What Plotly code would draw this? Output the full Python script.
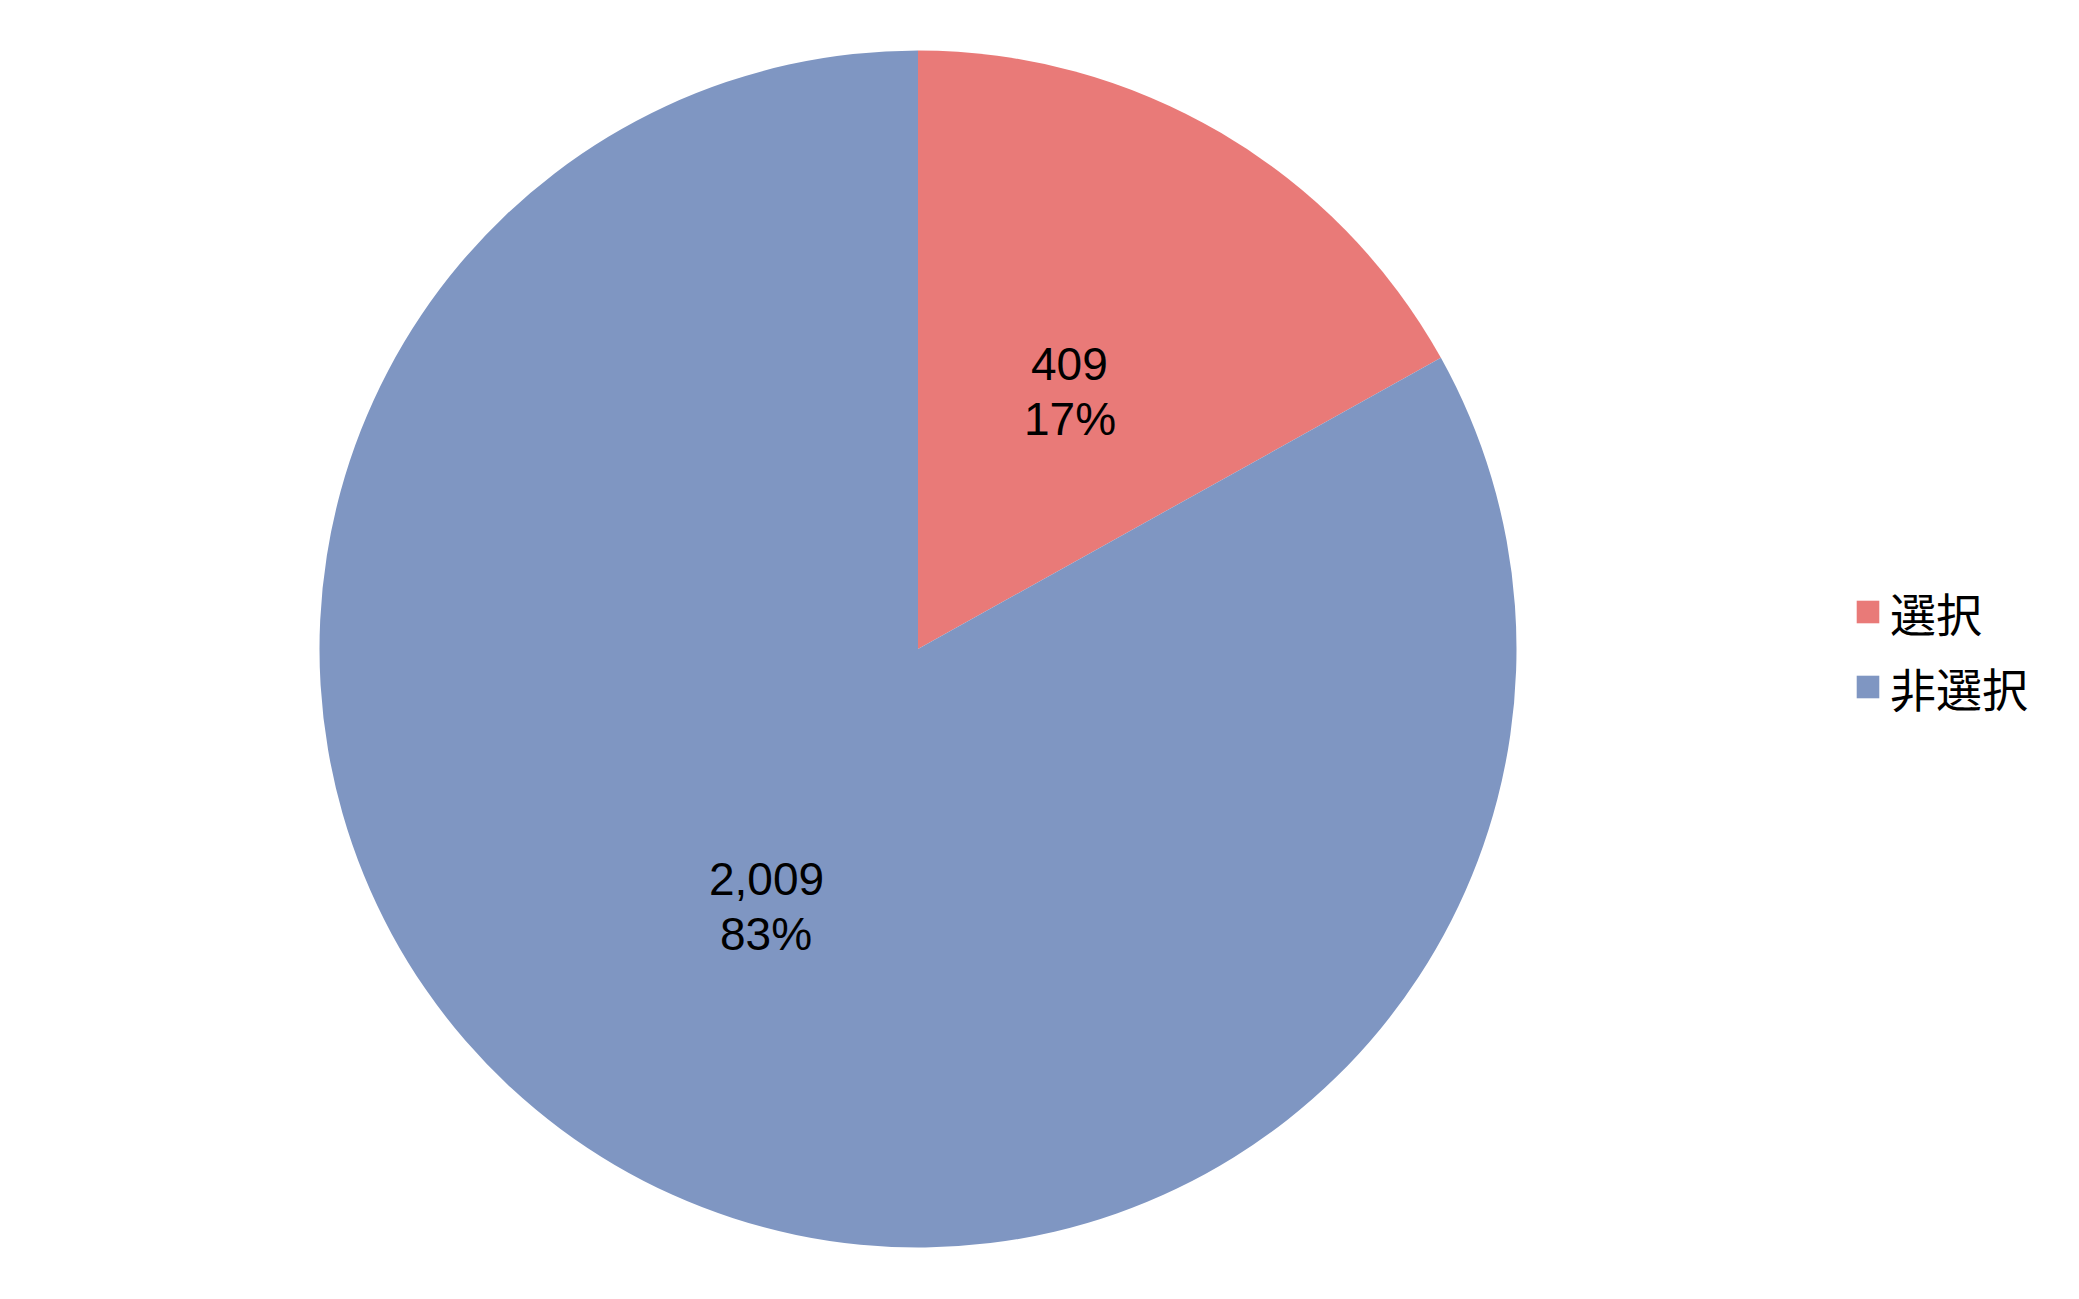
import math
import plotly.graph_objects as go

labels = ["選択", "非選択"]
values = [409, 2009]
colors = ["#E97A78", "#7F96C2"]

# figure size (page has an 8px body margin)
W, H = 2071, 1291
OFF = 8

def fx(px):  # page px -> paper x
    return (px - OFF) / W

def fy(py):  # page px -> paper y
    return 1 - (py - OFF) / H

# pie geometry (page px)
CX, CY, R = 918.0, 649.0, 598.5

fig = go.Figure(go.Pie(
    labels=labels,
    values=values,
    marker=dict(colors=colors, line=dict(width=0)),
    sort=False,
    direction="clockwise",
    rotation=0,
    textinfo="none",
    domain=dict(x=[fx(CX - R), fx(CX + R)], y=[fy(CY + R), fy(CY - R)]),
    hoverinfo="label+value+percent",
    showlegend=False,
))

total = sum(values)
annotations = []
shapes = []
label_font = dict(family="Liberation Sans, Arial, sans-serif", size=46, color="#000000")
cum = 0
for lab, v in zip(labels, values):
    mid = (cum + v / 2) / total * 2 * math.pi
    cum += v
    lx = CX + 0.5 * R * math.sin(mid)
    ly = CY - 0.5 * R * math.cos(mid)
    pct = f"{round(100 * v / total)}%"
    for txt, dy in ((f"{v:,}", -27.5), (pct, 27.5)):
        annotations.append(dict(
            x=fx(lx), y=fy(ly + dy), xref="paper", yref="paper",
            text=txt, showarrow=False, xanchor="center", yanchor="middle",
            font=label_font,
        ))

# legend (drawn from labels/colors)
LEG_X, LEG_Y0, LEG_DY, SQ = 1868.0, 612.0, 75.0, 22.6
for i, (lab, c) in enumerate(zip(labels, colors)):
    yc = LEG_Y0 + i * LEG_DY
    shapes.append(dict(
        type="rect", xref="paper", yref="paper",
        x0=fx(LEG_X - SQ / 2), x1=fx(LEG_X + SQ / 2),
        y0=fy(yc + SQ / 2), y1=fy(yc - SQ / 2),
        fillcolor=c, line=dict(width=0),
    ))
    annotations.append(dict(
        x=fx(1888), y=fy(yc), xref="paper", yref="paper",
        text=lab, showarrow=False, xanchor="left", yanchor="middle",
        font=dict(family="Noto Sans CJK JP, sans-serif", size=46, color="#000000"),
    ))

fig.update_layout(
    width=W, height=H,
    margin=dict(l=0, r=0, t=0, b=0),
    paper_bgcolor="white",
    plot_bgcolor="white",
    showlegend=False,
    annotations=annotations,
    shapes=shapes,
)

fig.write_html("out.html")
